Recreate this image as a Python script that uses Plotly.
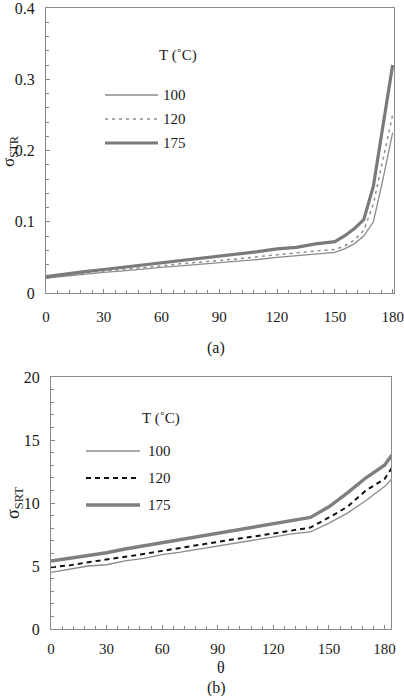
import plotly.graph_objects as go

# ---------------- data ----------------
theta_a = [0, 10, 20, 30, 40, 50, 60, 70, 80, 90, 100, 110, 120, 130, 140, 150, 155, 160, 165, 170, 175, 180]
a_100 = [0.021, 0.024, 0.027, 0.029, 0.031, 0.034, 0.036, 0.038, 0.040, 0.043, 0.045, 0.047, 0.050, 0.052, 0.055, 0.057, 0.062, 0.069, 0.080, 0.100, 0.160, 0.225]
a_120 = [0.021, 0.025, 0.028, 0.031, 0.033, 0.036, 0.038, 0.041, 0.043, 0.046, 0.048, 0.051, 0.054, 0.056, 0.059, 0.061, 0.066, 0.074, 0.088, 0.125, 0.190, 0.250]
a_175 = [0.023, 0.027, 0.030, 0.033, 0.036, 0.039, 0.043, 0.045, 0.048, 0.052, 0.055, 0.058, 0.062, 0.064, 0.069, 0.072, 0.080, 0.090, 0.103, 0.150, 0.235, 0.320]

theta_b = [0, 10, 20, 30, 40, 50, 60, 70, 80, 90, 100, 110, 120, 130, 140, 150, 160, 170, 180, 184]
b_100 = [4.5, 4.75, 5.0, 5.1, 5.4, 5.6, 5.9, 6.1, 6.35, 6.6, 6.85, 7.05, 7.3, 7.55, 7.7, 8.4, 9.2, 10.2, 11.3, 11.9]
b_120 = [4.9, 5.05, 5.3, 5.5, 5.75, 5.95, 6.2, 6.45, 6.65, 6.9, 7.15, 7.35, 7.6, 7.85, 8.05, 8.85, 9.7, 11.0, 11.9, 12.8]
b_175 = [5.4, 5.6, 5.85, 6.05, 6.35, 6.6, 6.8, 7.1, 7.35, 7.55, 7.85, 8.1, 8.35, 8.6, 8.85, 9.7, 10.8, 12.0, 13.0, 13.8]

temps = ["100", "120", "175"]
x_ticks = [0, 30, 60, 90, 120, 150, 180]
ya_ticks = [0, 0.1, 0.2, 0.3, 0.4]
ya_labels = ["0", "0.1", "0.2", "0.3", "0.4"]
yb_ticks = [0, 5, 10, 15, 20]

# ---------------- styling ----------------
W, H = 404, 696
FONT = "Liberation Serif, Times New Roman, DejaVu Serif, serif"
AX = "#8a8a8a"
TXT = "#1a1a1a"

def px(x):
    return x / W

def py(y):
    return 1 - y / H

styles_a = [
    dict(color="#8c8c8c", width=1.3, dash="solid"),
    dict(color="#8c8c8c", width=1.5, dash="3px,4px"),
    dict(color="#7a7a7a", width=3.2, dash="solid"),
]
styles_b = [
    dict(color="#8c8c8c", width=1.3, dash="solid"),
    dict(color="#111111", width=2.0, dash="5px,4px"),
    dict(color="#7f7f7f", width=3.4, dash="solid"),
]

fig = go.Figure()
for name, ys, st in zip(temps, [a_100, a_120, a_175], styles_a):
    fig.add_trace(go.Scatter(x=theta_a, y=ys, mode="lines", name=name, line=st,
                             xaxis="x", yaxis="y", showlegend=False))
for name, ys, st in zip(temps, [b_100, b_120, b_175], styles_b):
    fig.add_trace(go.Scatter(x=theta_b, y=ys, mode="lines", name=name, line=st,
                             xaxis="x2", yaxis="y2", showlegend=False))

axis_common = dict(
    showline=True, linecolor=AX, linewidth=1.2, mirror=True,
    ticks="inside", ticklen=4, tickcolor=AX, tickwidth=1,
    showgrid=False, zeroline=False, automargin=False,
    ticklabeloverflow="allow",
)
xfont = dict(family=FONT, size=15, color=TXT)
yfont = dict(family=FONT, size=16, color=TXT)

fig.update_layout(
    width=W, height=H,
    margin=dict(l=0, r=0, t=0, b=0),
    paper_bgcolor="white", plot_bgcolor="white",
    xaxis=dict(domain=[px(46), px(394)], range=[0, 180.7], anchor="y",
               tickvals=x_ticks, ticklabelstandoff=10, tickfont=xfont,
               minor=dict(dtick=6, ticks="inside", ticklen=3, tickcolor=AX),
               **axis_common),
    yaxis=dict(domain=[py(293), py(8)], range=[0, 0.4], anchor="x",
               tickvals=ya_ticks, ticktext=ya_labels, ticklabelstandoff=7, tickfont=yfont,
               minor=dict(dtick=0.02, ticks="inside", ticklen=3, tickcolor=AX),
               **axis_common),
    xaxis2=dict(domain=[px(51), px(391)], range=[0, 183.5], anchor="y2",
                tickvals=x_ticks, ticklabelstandoff=6, tickfont=xfont,
                minor=dict(dtick=6, ticks="inside", ticklen=3, tickcolor=AX),
                **axis_common),
    yaxis2=dict(domain=[py(629), py(377)], range=[0, 20], anchor="x2",
                tickvals=yb_ticks, ticklabelstandoff=7, tickfont=yfont,
                minor=dict(dtick=1, ticks="inside", ticklen=3, tickcolor=AX),
                **axis_common),
)

def note(x, y, text, size=15, xanchor="center", angle=0):
    return dict(x=px(x), y=py(y), xref="paper", yref="paper", text=text,
                xanchor=xanchor, yanchor="middle", textangle=angle, showarrow=False,
                font=dict(family=FONT, size=size, color=TXT))

ann = []
# axis titles
ann.append(note(10, 152, "σ<sub>STR</sub>", size=17, angle=-90))
ann.append(note(14, 503, "σ<sub>SRT</sub>", size=18, angle=-90))
ann.append(note(221, 667, "θ", size=16))
ann.append(note(216, 348, "(a)", size=16))
ann.append(note(216, 688, "(b)", size=16))

# legend titles
ann.append(note(157, 55, "T (˚C)", xanchor="left"))
ann.append(note(140, 418, "T (˚C)", xanchor="left"))

shapes = []
leg_a_y = [95, 119, 143]
leg_b_y = [451, 478, 505]
for t, yy, st in zip(temps, leg_a_y, styles_a):
    shapes.append(dict(type="line", xref="paper", yref="paper", x0=px(105), x1=px(158),
                       y0=py(yy), y1=py(yy), line=st))
    ann.append(note(161, yy, t, xanchor="left"))
for t, yy, st in zip(temps, leg_b_y, styles_b):
    shapes.append(dict(type="line", xref="paper", yref="paper", x0=px(86), x1=px(140),
                       y0=py(yy), y1=py(yy), line=st))
    ann.append(note(146, yy, t, xanchor="left"))

fig.update_layout(annotations=ann, shapes=shapes)
fig.write_html("out.html")
